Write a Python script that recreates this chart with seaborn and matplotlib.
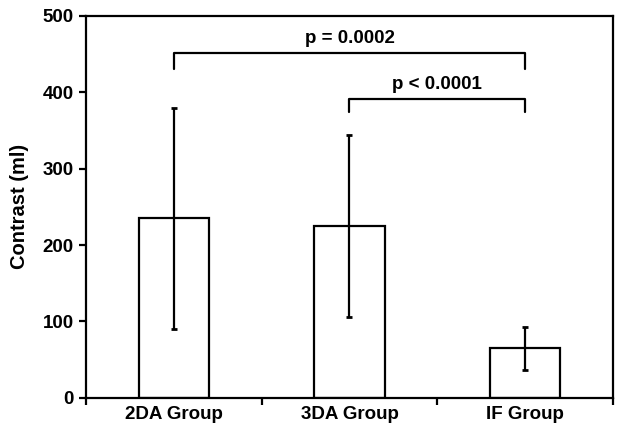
import pandas as pd
import matplotlib.pyplot as plt
import seaborn as sns

# Group means and standard deviations
groups = ["2DA Group", "3DA Group", "IF Group"]
contrast_mean = [235, 225, 65]
contrast_sd = [145, 119, 28]

# Significance brackets: (left group, right group, label, bar height, leg end)
brackets = [
    (0, 2, "p = 0.0002", 452, 431),
    (1, 2, "p < 0.0001", 391, 374),
]

sns.set_style("white")
plt.rcParams["font.family"] = ["Liberation Sans", "DejaVu Sans"]
plt.rcParams["text.color"] = "black"
plt.rcParams["axes.labelcolor"] = "black"
plt.rcParams["xtick.color"] = "black"
plt.rcParams["ytick.color"] = "black"

df = pd.DataFrame({"group": groups, "contrast": contrast_mean})

fig = plt.figure(figsize=(6.24, 4.44), dpi=100)
ax = fig.add_axes([0.138, 0.104, 0.844, 0.86])

sns.barplot(data=df, x="group", y="contrast", color="white", edgecolor="black",
            linewidth=1.6, width=0.4, errorbar=None, ax=ax)
ax.errorbar(range(len(groups)), contrast_mean, yerr=contrast_sd, fmt="none",
            ecolor="black", elinewidth=1.6, capsize=2.5, capthick=2)

for i, j, label, top, leg in brackets:
    ax.plot([i, i, j, j], [leg, top, top, leg], color="black", lw=1.6)
    ax.text((i + j) / 2, top + 8, label, ha="center", va="bottom",
            fontsize=13.5, fontweight="bold")

ax.set_xlim(-0.5, 2.5)
ax.set_ylim(0, 500)
ax.set_yticks(range(0, 501, 100))
ax.set_xticks([0, 1, 2])
ax.set_xticklabels(groups, fontsize=13.5, fontweight="bold")
ax.set_xticks([-0.5, 0.5, 1.5, 2.5], minor=True)
ax.tick_params(axis="x", which="major", length=0, pad=6)
ax.tick_params(axis="x", which="minor", length=5, width=1.6, direction="out",
               bottom=True)
ax.tick_params(axis="y", length=5, width=1.6, direction="out", left=True,
               labelsize=13.5, pad=4)
for t in ax.get_yticklabels():
    t.set_fontweight("bold")
ax.set_xlabel("")
ax.set_ylabel("Contrast (ml)", fontsize=14.5, fontweight="bold", labelpad=10)
for s in ax.spines.values():
    s.set_linewidth(1.6)
    s.set_color("black")

plt.savefig("out.png", dpi=100)
